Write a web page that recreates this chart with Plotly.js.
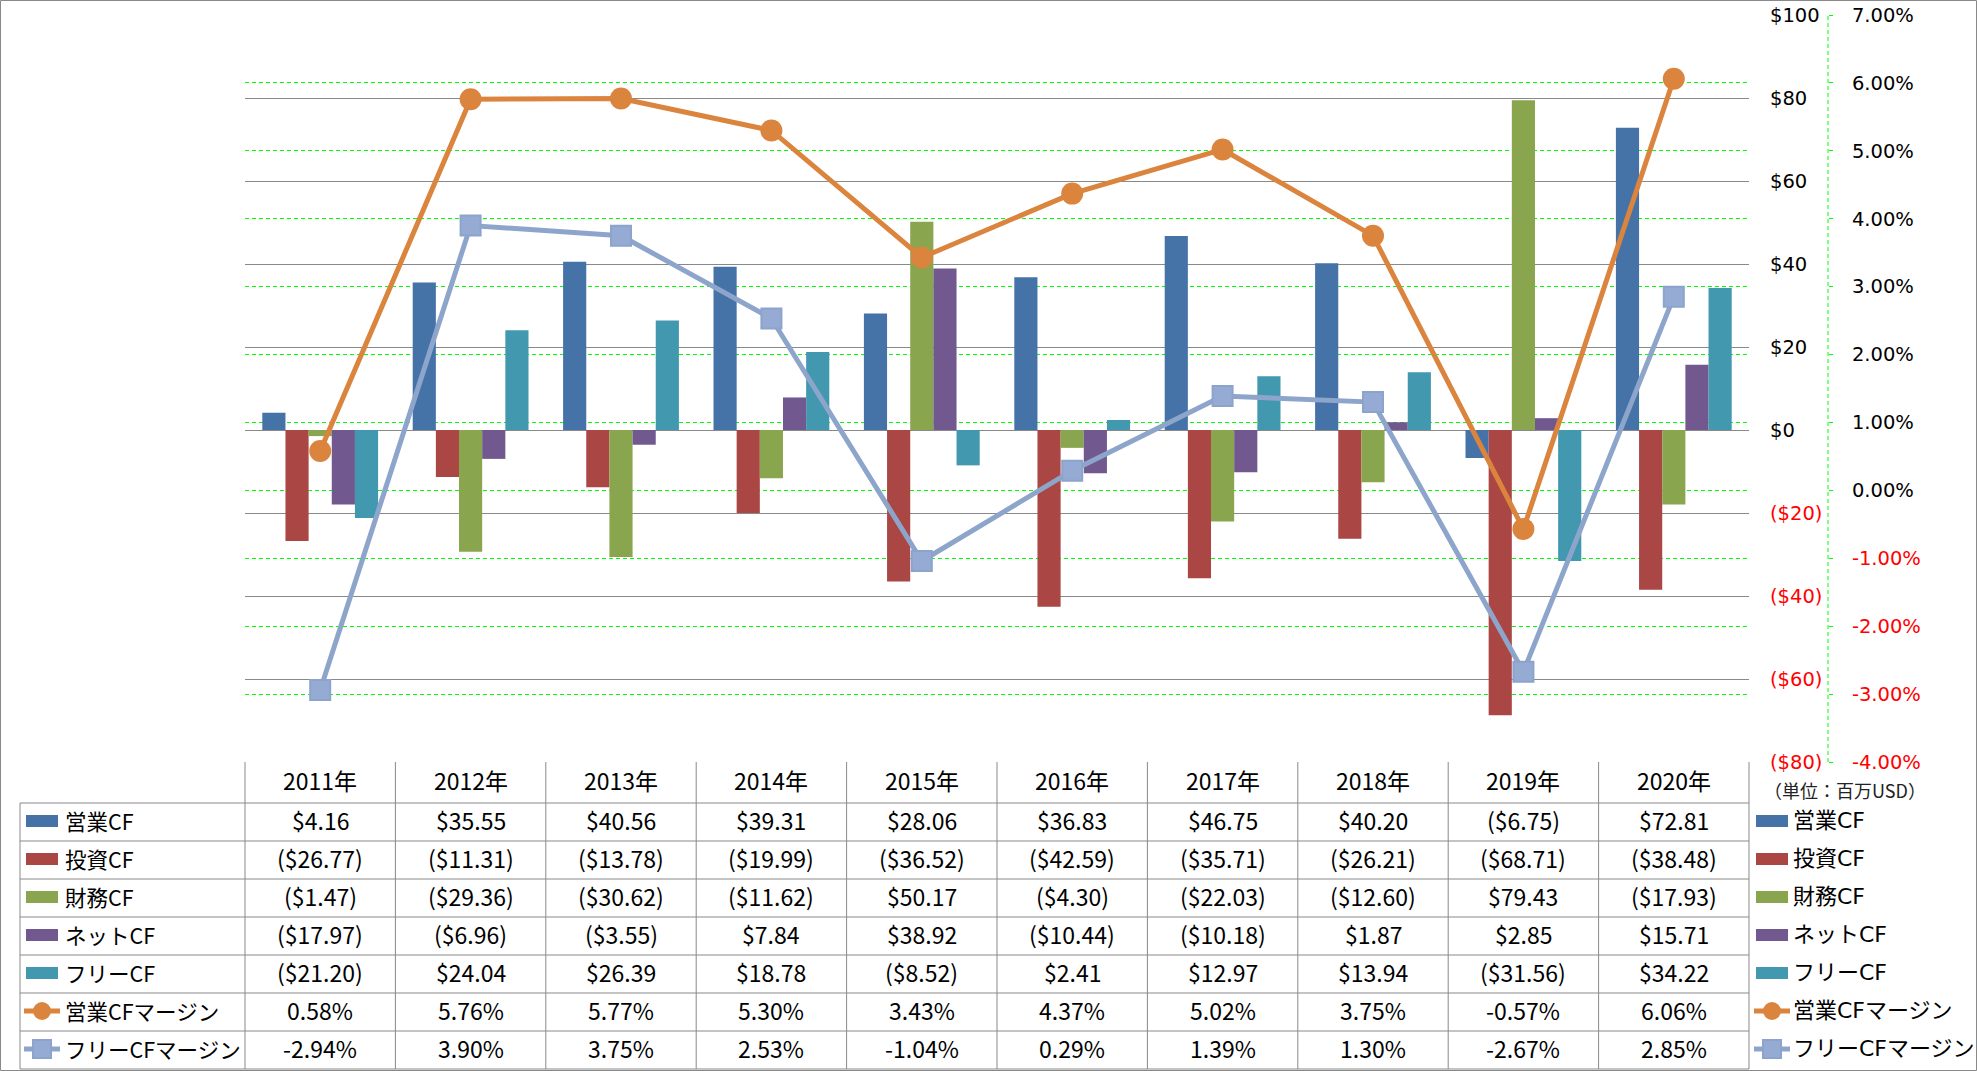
<!DOCTYPE html>
<html><head><meta charset="utf-8">
<script src="https://cdn.plot.ly/plotly-3.0.1.min.js"></script>
<style>html,body{margin:0;padding:0;background:#fff;}#chart{width:1977px;height:1071px;}</style>
</head><body><div id="chart"></div>
<script>
const years = ['2011年','2012年','2013年','2014年','2015年','2016年','2017年','2018年','2019年','2020年'];
const opCF   = [4.16, 35.55, 40.56, 39.31, 28.06, 36.83, 46.75, 40.20, -6.75, 72.81];
const invCF  = [-26.77, -11.31, -13.78, -19.99, -36.52, -42.59, -35.71, -26.21, -68.71, -38.48];
const finCF  = [-1.47, -29.36, -30.62, -11.62, 50.17, -4.30, -22.03, -12.60, 79.43, -17.93];
const netCF  = [-17.97, -6.96, -3.55, 7.84, 38.92, -10.44, -10.18, 1.87, 2.85, 15.71];
const freeCF = [-21.20, 24.04, 26.39, 18.78, -8.52, 2.41, 12.97, 13.94, -31.56, 34.22];
const opMargin   = [0.58, 5.76, 5.77, 5.30, 3.43, 4.37, 5.02, 3.75, -0.57, 6.06];
const freeMargin = [-2.94, 3.90, 3.75, 2.53, -1.04, 0.29, 1.39, 1.30, -2.67, 2.85];
const seriesNames = ['営業CF','投資CF','財務CF','ネットCF','フリーCF','営業CFマージン','フリーCFマージン'];
const leftTicks = [-80,-60,-40,-20,0,20,40,60,80,100];
const rightTicks = [-4,-3,-2,-1,0,1,2,3,4,5,6,7];
const unitLabel = '（単位：百万USD）';

const colors = ['#4572A7','#AA4643','#89A54E','#71588F','#4198AF','#DB843D','#93A9CF'];
const W=1977,H=1071,L=245,R=100,T=15,B=309;
const paperW = W-L-R, plotH = H-T-B;
const plotRight = 1749;
const xDom = (plotRight-L)/paperW;
const px = x => (x-L)/paperW;
const py = y => (H-B-y)/plotH;

const money = v => v<0 ? '($'+Math.abs(v).toFixed(2)+')' : '$'+v.toFixed(2);
const pct = v => v.toFixed(2)+'%';
const RED = '#FF0000';

const barSeries = [opCF,invCF,finCF,netCF,freeCF];
const traces = barSeries.map((d,i)=>({
  type:'bar', x:years, y:d, name:seriesNames[i], marker:{color:colors[i], line:{width:0}},
  hoverinfo:'skip'
}));
traces.push({type:'scatter', mode:'lines+markers', x:years, y:opMargin.map(v=>v/100), yaxis:'y2',
  name:seriesNames[5], line:{color:colors[5], width:5}, marker:{symbol:'circle', size:22, color:'#DB843D'}, hoverinfo:'skip'});
traces.push({type:'scatter', mode:'lines+markers', x:years, y:freeMargin.map(v=>v/100), yaxis:'y2',
  name:seriesNames[6], line:{color:'#8EA5CB', width:5}, marker:{symbol:'square', size:20, color:'#95ABD3', line:{color:'#8CA3CB', width:2}}, hoverinfo:'skip'});

const tblFont = {family:'"Noto Sans CJK JP", sans-serif', size:23, color:'#000'};
const lblFont = {family:'"Noto Sans CJK JP", sans-serif', size:21.5, color:'#000'};
const axFont = {family:'"DejaVu Sans", "Noto Sans CJK JP", sans-serif', size:19.5, color:'#000'};

const annotations = [];
const shapes = [];
const colW = (plotRight-L)/years.length;
const headerC = 780;
const rowTop = 803, rowH = 38.0;
// header
years.forEach((yr,k)=>{
  annotations.push({xref:'x', yref:'paper', x:yr, y:py(headerC), text:yr, showarrow:false, font:tblFont, xanchor:'center', yanchor:'middle'});
});
const allData = [opCF,invCF,finCF,netCF,freeCF,opMargin,freeMargin];
allData.forEach((d,r)=>{
  const cy = rowTop + rowH*(r+0.5) - 2;
  d.forEach((v,k)=>{
    annotations.push({xref:'x', yref:'paper', x:years[k], y:py(cy), text: r<5?money(v):pct(v), showarrow:false, font:tblFont, xanchor:'center', yanchor:'middle'});
  });
  annotations.push({xref:'paper', yref:'paper', x:px(63), y:py(cy), text:seriesNames[r], showarrow:false, font:lblFont, xanchor:'left', yanchor:'middle'});
  annotations.push({xref:'paper', yref:'paper', x:px(1791), y:py(cy), text:seriesNames[r], showarrow:false, font:{...axFont, size:22}, xanchor:'left', yanchor:'middle'});
  // legend swatches
  [[26,58],[1756,1788]].forEach(([a,b])=>{
    const sy = cy + 1;
    if(r<5){
      shapes.push({type:'rect', xref:'paper', yref:'paper', x0:px(a), x1:px(b), y0:py(sy-6), y1:py(sy+6), fillcolor:colors[r], line:{width:0}});
    } else {
      const lc = r===5?'#DB843D':'#8EA5CB';
      shapes.push({type:'line', xref:'paper', yref:'paper', x0:px(a-2), x1:px(b+2), y0:py(sy), y1:py(sy), line:{color:lc, width:5}});
      const m = (a+b)/2;
      if(r===5) shapes.push({type:'circle', xref:'paper', yref:'paper', x0:px(m-9), x1:px(m+9), y0:py(sy-9), y1:py(sy+9), fillcolor:'#DB843D', line:{width:0}});
      else shapes.push({type:'rect', xref:'paper', yref:'paper', x0:px(m-9), x1:px(m+9), y0:py(sy-9), y1:py(sy+9), fillcolor:'#95ABD3', line:{color:'#8CA3CB', width:2}});
    }
  });
});
annotations.push({xref:'paper', yref:'paper', x:px(1845), y:py(790), text:unitLabel, showarrow:false, font:{family:'"Noto Sans CJK JP", sans-serif', size:18, color:'#222'}, xanchor:'center', yanchor:'middle'});

const GRID = '#898989';
// table lines
for(let k=0;k<=years.length;k++){
  const x = L + k*colW;
  shapes.push({type:'line', xref:'paper', yref:'paper', x0:px(x), x1:px(x), y0:py(762), y1:py(1069), line:{color:GRID, width:1}});
}
shapes.push({type:'line', xref:'paper', yref:'paper', x0:px(20), x1:px(20), y0:py(rowTop), y1:py(1069), line:{color:GRID, width:1}});
for(let r=0;r<=7;r++){
  const y = rowTop + rowH*r;
  shapes.push({type:'line', xref:'paper', yref:'paper', x0:px(20), x1:px(plotRight), y0:py(y), y1:py(y), line:{color:GRID, width:1}});
}
// secondary axis dashed line
shapes.push({type:'line', xref:'paper', yref:'paper', x0:px(1828), x1:px(1828), y0:0, y1:1, line:{color:'#00FF00', width:1, dash:'4px,3px'}});
// outer border
shapes.push({type:'rect', xref:'paper', yref:'paper', x0:px(0.5), x1:px(W-0.5), y0:py(0.5), y1:py(H-0.5), line:{color:GRID, width:1}, fillcolor:'rgba(0,0,0,0)'});

const layout = {
  width:W, height:H, margin:{l:L, r:R, t:T, b:B, pad:0},
  paper_bgcolor:'#fff', plot_bgcolor:'#fff',
  showlegend:false, barmode:'group', bargap:0.23, bargroupgap:0,
  xaxis:{domain:[0,xDom], type:'category', range:[-0.5, years.length-0.5], autorange:false, showticklabels:false, ticks:'', showgrid:false, zeroline:false, showline:false, fixedrange:true},
  yaxis:{range:[-80,100], side:'right', anchor:'x', tickvals:leftTicks,
    ticktext:leftTicks.map(v=> v<0 ? '<span style="color:'+RED+'">($'+(-v)+')</span>' : '$'+v),
    tickfont:axFont, ticks:'', ticklabelstandoff:20, showgrid:true, gridcolor:GRID, gridwidth:1, zeroline:false, showline:false},
  yaxis2:{range:[-0.04,0.07], overlaying:'y', side:'right', anchor:'free', position:px(1828),
    tickvals:rightTicks.map(v=>v/100),
    ticktext:rightTicks.map(v=> v<0 ? '<span style="color:'+RED+'">'+v.toFixed(2)+'%</span>' : v.toFixed(2)+'%'),
    tickfont:axFont, ticks:'outside', ticklen:4, tickcolor:'#00FF00', tickwidth:1, ticklabelstandoff:15,
    showgrid:true, gridcolor:'#00FF00', griddash:'4px,3px', gridwidth:1, zeroline:false, showline:false},
  annotations, shapes
};
Plotly.newPlot('chart', traces, layout, {staticPlot:true, displayModeBar:false});
</script></body></html>
